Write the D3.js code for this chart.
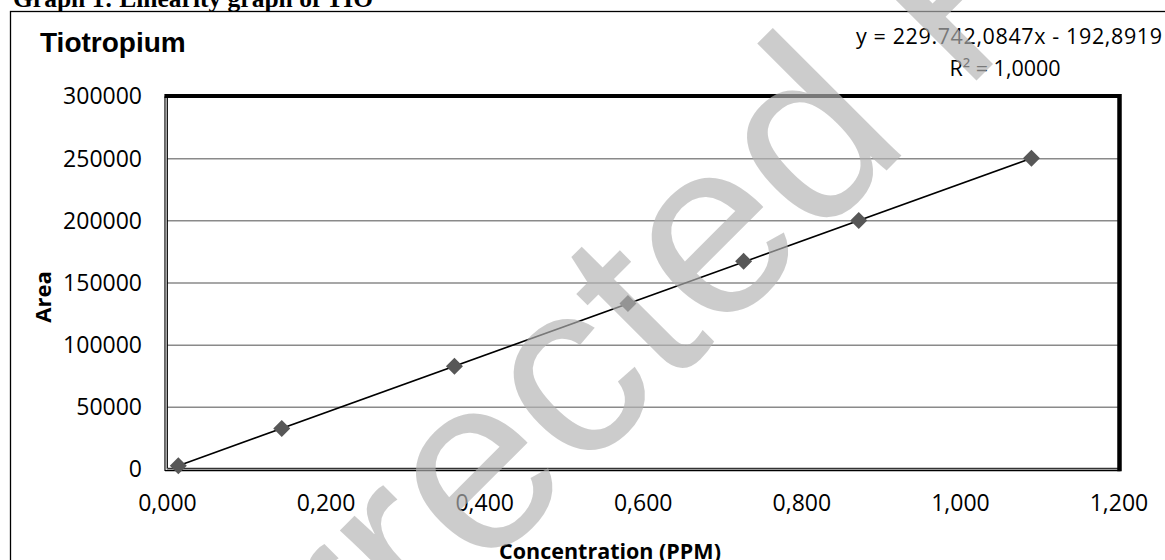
<!DOCTYPE html>
<html>
<head>
<meta charset="utf-8">
<script src="https://cdn.jsdelivr.net/npm/d3@7"></script>
<style>
  html, body { margin: 0; padding: 0; background: #ffffff; }
  svg { display: block; }
</style>
</head>
<body>
<svg id="chart" width="1165" height="560"></svg>
<script>
// ---- data ----
const concentration = [0.0143, 0.1447, 0.3625, 0.5813, 0.7272, 0.8724, 1.0902];
const areaValues = [3000, 33050, 83100, 133450, 167400, 200300, 250250];
const xTickValues = [0, 0.2, 0.4, 0.6, 0.8, 1.0, 1.2];
const yTickValues = [0, 50000, 100000, 150000, 200000, 250000, 300000];
const trendSlope = 229742.0847;
const trendIntercept = -192.8919;
const equationLabel = "y = 229.742,0847x - 192,8919";
const r2Label = "R\u00B2 = 1,0000";
const chartTitle = "Tiotropium";
const docCaption = "Graph 1: Linearity graph of TIO";
const xAxisTitle = "Concentration (PPM)";
const yAxisTitle = "Area";
const watermarkText = "Uncorrected Proof";

// ---- layout ----
const svg = d3.select("#chart");
const X0 = 167, X1 = 1118.5, Y0 = 96.5, Y1 = 469.5;
const x = d3.scaleLinear().domain([0, 1.2]).range([X0, X1]);
const y = d3.scaleLinear().domain([0, 300000]).range([Y1, Y0]);
const loc = d3.formatLocale({decimal: ",", thousands: ".", grouping: [3], currency: ["", ""]});
const fmtX = loc.format(".3f");
const fmtY = d3.format("d");
const sans = "'Open Sans', 'Noto Sans', sans-serif";

svg.append("rect").attr("width", 1165).attr("height", 560).attr("fill", "#fff");

// document caption (cut at top)
svg.append("text").attr("x", 13).attr("y", 7)
  .attr("font-family", "'Liberation Serif', 'Times New Roman', serif")
  .attr("font-weight", "bold").attr("font-size", 25.5).attr("fill", "#000")
  .text(docCaption);

// chart area border
svg.append("rect").attr("x", 10.5).attr("y", 11.5).attr("width", 1300).attr("height", 700)
  .attr("fill", "none").attr("stroke", "#000").attr("stroke-width", 1.3);

// gridlines
svg.append("g").selectAll("line")
  .data(yTickValues.filter(v => v > 0 && v < 300000))
  .join("line")
  .attr("x1", X0).attr("x2", X1)
  .attr("y1", d => y(d)).attr("y2", d => y(d))
  .attr("stroke", "#8a8a8a").attr("stroke-width", 1.5);

// plot area frame
const frame = svg.append("g");
frame.append("line").attr("x1", X0 - 2).attr("x2", X0 - 2).attr("y1", Y0).attr("y2", Y1 + 1.5).attr("stroke", "#000").attr("stroke-width", 1.2);
frame.append("line").attr("x1", X0 - 0.8).attr("x2", X0 - 0.8).attr("y1", Y0).attr("y2", Y1).attr("stroke", "#999").attr("stroke-width", 1);
frame.append("line").attr("x1", X0 + 0.4).attr("x2", X0 + 0.4).attr("y1", Y0).attr("y2", Y1 - 1.2).attr("stroke", "#000").attr("stroke-width", 1);
frame.append("line").attr("x1", X0 - 2).attr("x2", X1 + 2).attr("y1", Y1 + 1.2).attr("y2", Y1 + 1.2).attr("stroke", "#000").attr("stroke-width", 1.2);
frame.append("line").attr("x1", X0).attr("x2", X1).attr("y1", Y1).attr("y2", Y1).attr("stroke", "#999").attr("stroke-width", 1);
frame.append("line").attr("x1", X0 + 0.4).attr("x2", X1).attr("y1", Y1 - 1.2).attr("y2", Y1 - 1.2).attr("stroke", "#000").attr("stroke-width", 1);
frame.append("line").attr("x1", X0 - 2.6).attr("x2", X1 + 2.5).attr("y1", Y0 - 0.5).attr("y2", Y0 - 0.5).attr("stroke", "#000").attr("stroke-width", 4);
frame.append("line").attr("x1", X1 + 1).attr("x2", X1 + 1).attr("y1", Y0 - 2.5).attr("y2", Y1 + 1.8).attr("stroke", "#000").attr("stroke-width", 4.5);

// axes (labels only)
const yAxis = svg.append("g").attr("transform", `translate(${X0},0)`)
  .call(d3.axisLeft(y).tickValues(yTickValues).tickFormat(fmtY).tickSize(0).tickPadding(25));
const xAxis = svg.append("g").attr("transform", `translate(0,${Y1})`)
  .call(d3.axisBottom(x).tickValues(xTickValues).tickFormat(fmtX).tickSize(0).tickPadding(25.5));
[yAxis, xAxis].forEach(g => {
  g.select(".domain").remove();
  g.selectAll("text").attr("font-family", sans).attr("font-size", 23).attr("fill", "#000");
});

// trendline
const trendX = d3.extent(concentration);
svg.append("line")
  .attr("x1", x(trendX[0])).attr("y1", y(trendSlope * trendX[0] + trendIntercept))
  .attr("x2", x(trendX[1])).attr("y2", y(trendSlope * trendX[1] + trendIntercept))
  .attr("stroke", "#000").attr("stroke-width", 1.6);

// markers (diamonds)
const r = 8.5;
svg.append("g").selectAll("path")
  .data(concentration.map((c, i) => [c, areaValues[i]]))
  .join("path")
  .attr("transform", d => `translate(${x(d[0])},${y(d[1])})`)
  .attr("d", `M0,${-r}L${r},0L0,${r}L${-r},0Z`)
  .attr("fill", "#575757");

// chart title
svg.append("text").attr("x", 40).attr("y", 52)
  .attr("font-family", "'Liberation Sans', Arial, sans-serif")
  .attr("font-weight", "bold").attr("font-size", 28).attr("fill", "#000")
  .text(chartTitle);

// trendline equation
svg.append("text").attr("x", 1009).attr("y", 44).attr("text-anchor", "middle")
  .attr("font-family", sans).attr("font-size", 21.5).attr("fill", "#000")
  .attr("textLength", 306).attr("lengthAdjust", "spacing")
  .text(equationLabel);
svg.append("text").attr("x", 1005).attr("y", 76).attr("text-anchor", "middle")
  .attr("font-family", sans).attr("font-size", 21.5).attr("fill", "#000")
  .text(r2Label);

// axis titles
svg.append("text").attr("transform", "translate(51,297) rotate(-90)").attr("text-anchor", "middle")
  .attr("font-family", sans).attr("font-weight", "bold").attr("font-size", 22).attr("fill", "#000")
  .text(yAxisTitle);
svg.append("text").attr("x", 610).attr("y", 558.5).attr("text-anchor", "middle")
  .attr("font-family", sans).attr("font-weight", "bold").attr("font-size", 21.5).attr("fill", "#000")
  .text(xAxisTitle);

// watermark
svg.append("text").attr("transform", "translate(-50,1107) rotate(-45)")
  .attr("font-family", "'Liberation Sans', Arial, sans-serif")
  .attr("font-size", 250).attr("fill", "#b3b3b3").attr("fill-opacity", 0.67)
  .text(watermarkText);
</script>
</body>
</html>
